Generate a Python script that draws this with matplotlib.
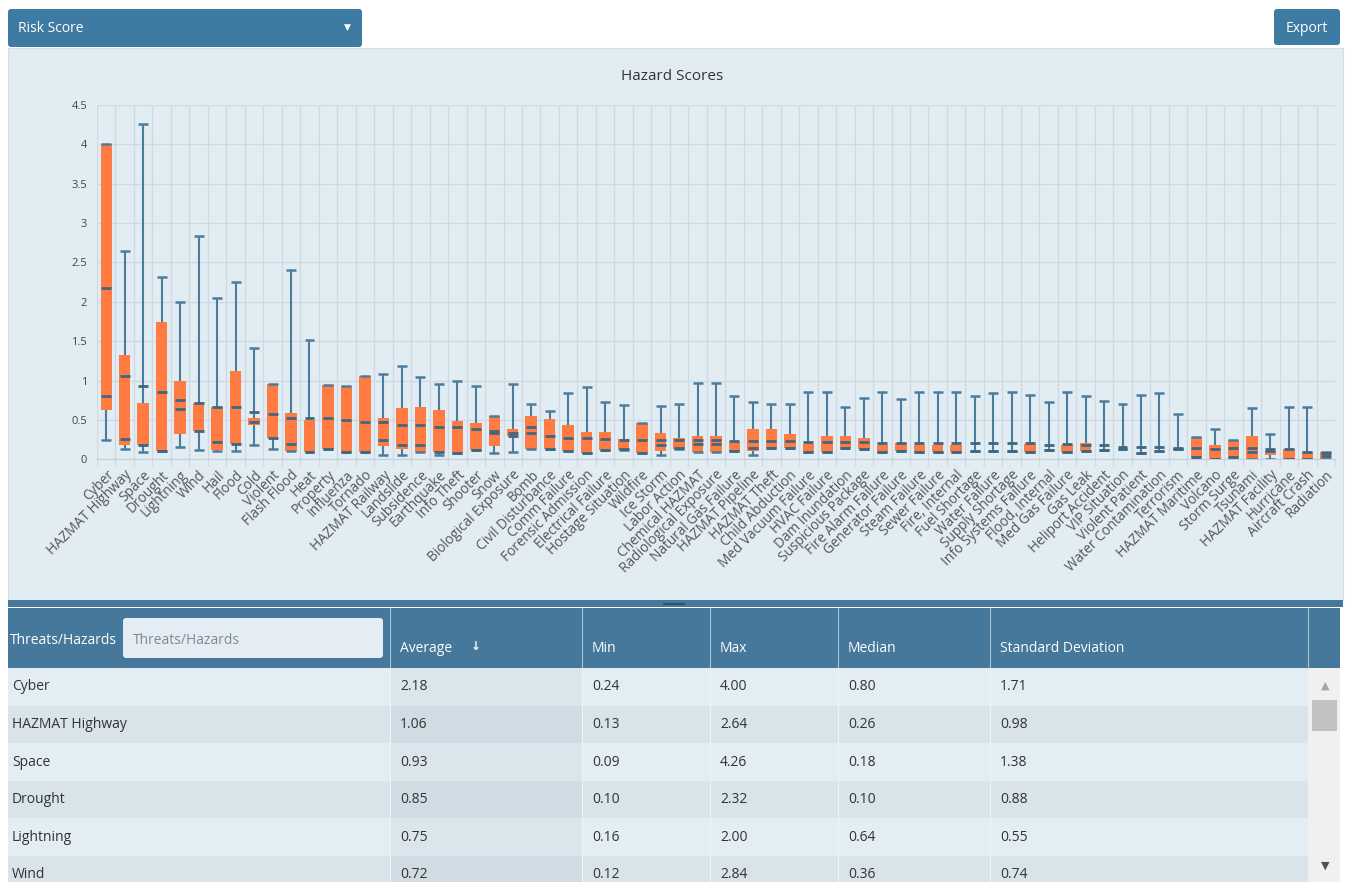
import numpy as np
import matplotlib
matplotlib.use('Agg')
import matplotlib.pyplot as plt
from matplotlib.patches import Rectangle, FancyBboxPatch
from matplotlib.ticker import FixedLocator, FuncFormatter

plt.rcParams['font.family'] = ['Open Sans', 'DejaVu Sans']

hazards = ['Cyber', 'HAZMAT Highway', 'Space', 'Drought', 'Lightning', 'Wind', 'Hail', 'Flood',
           'Cold', 'Violent', 'Flash Flood', 'Heat', 'Property', 'Influenza', 'Tornado',
           'HAZMAT Railway', 'Landslide', 'Subsidence', 'Earthquake', 'Info Theft', 'Shooter',
           'Snow', 'Biological Exposure', 'Bomb', 'Civil Disturbance', 'Comm Failure',
           'Forensic Admission', 'Electrical Failure', 'Hostage Situation', 'Wildfire',
           'Ice Storm', 'Labor Action', 'Chemical HAZMAT', 'Radiological Exposure',
           'Natural Gas Failure', 'HAZMAT Pipeline', 'HAZMAT Theft', 'Child Abduction',
           'Med Vacuum Failure', 'HVAC Failure', 'Dam Inundation', 'Suspicious Package',
           'Fire Alarm Failure', 'Generator Failure', 'Steam Failure', 'Sewer Failure',
           'Fire, Internal', 'Fuel Shortage', 'Water Failure', 'Supply Shortage',
           'Info Systems Failure', 'Flood, Internal', 'Med Gas Failure', 'Gas Leak',
           'Heliport Accident', 'VIP Situation', 'Violent Patient', 'Water Contamination',
           'Terrorism', 'HAZMAT Maritime', 'Volcano', 'Storm Surge', 'Tsunami',
           'HAZMAT Facility', 'Hurricane', 'Aircraft Crash', 'Radiation']

mins = [0.24, 0.13, 0.09, 0.10, 0.16, 0.12, 0.11, 0.10, 0.18, 0.13, 0.10, 0.09, 0.13, 0.09, 0.09,
        0.06, 0.06, 0.09, 0.05, 0.08, 0.12, 0.085, 0.09, 0.13, 0.13, 0.11, 0.08, 0.12, 0.12, 0.08,
        0.05, 0.13, 0.09, 0.09, 0.11, 0.05, 0.14, 0.14, 0.09, 0.09, 0.14, 0.13, 0.09, 0.10, 0.09,
        0.09, 0.09, 0.11, 0.11, 0.11, 0.09, 0.12, 0.09, 0.11, 0.12, 0.13, 0.08, 0.11, 0.13, 0.03,
        0.00, 0.03, 0.01, 0.01, 0.01, 0.01, 0.00]
q1s = [0.63, 0.18, 0.18, 0.10, 0.32, 0.36, 0.12, 0.19, 0.44, 0.27, 0.10, 0.09, 0.13, 0.09, 0.09,
       0.17, 0.13, 0.09, 0.09, 0.08, 0.12, 0.17, 0.29, 0.13, 0.13, 0.11, 0.08, 0.12, 0.12, 0.08,
       0.10, 0.13, 0.09, 0.09, 0.11, 0.11, 0.14, 0.14, 0.09, 0.09, 0.14, 0.13, 0.09, 0.10, 0.09,
       0.09, 0.09, 0.11, 0.11, 0.11, 0.09, 0.12, 0.09, 0.11, 0.12, 0.13, 0.08, 0.11, 0.13, 0.03,
       0.00, 0.03, 0.01, 0.06, 0.01, 0.01, 0.00]
medians = [0.80, 0.26, 0.18, 0.10, 0.64, 0.36, 0.22, 0.19, 0.47, 0.27, 0.19, 0.09, 0.13, 0.09, 0.09,
           0.24, 0.18, 0.18, 0.09, 0.08, 0.12, 0.34, 0.30, 0.41, 0.13, 0.11, 0.08, 0.12, 0.13, 0.08,
           0.18, 0.14, 0.19, 0.19, 0.11, 0.14, 0.14, 0.14, 0.09, 0.09, 0.14, 0.13, 0.09, 0.10, 0.09,
           0.09, 0.09, 0.11, 0.11, 0.11, 0.09, 0.12, 0.09, 0.11, 0.12, 0.13, 0.08, 0.11, 0.13, 0.03,
           0.00, 0.03, 0.09, 0.10, 0.01, 0.01, 0.04]
means = [2.18, 1.06, 0.93, 0.85, 0.75, 0.72, 0.67, 0.66, 0.60, 0.58, 0.53, 0.52, 0.52, 0.50, 0.47,
         0.47, 0.44, 0.43, 0.41, 0.41, 0.39, 0.36, 0.34, 0.33, 0.29, 0.27, 0.27, 0.26, 0.25, 0.25,
         0.25, 0.24, 0.24, 0.24, 0.23, 0.23, 0.23, 0.23, 0.22, 0.22, 0.22, 0.22, 0.21, 0.21, 0.21,
         0.21, 0.21, 0.21, 0.21, 0.21, 0.21, 0.18, 0.19, 0.18, 0.18, 0.16, 0.15, 0.15, 0.14, 0.145,
         0.13, 0.14, 0.14, 0.13, 0.13, 0.09, 0.08]
q3s = [4.00, 1.33, 0.71, 1.74, 1.00, 0.71, 0.67, 1.12, 0.53, 0.96, 0.59, 0.50, 0.95, 0.93, 1.06,
       0.53, 0.65, 0.66, 0.63, 0.49, 0.46, 0.55, 0.38, 0.55, 0.51, 0.44, 0.35, 0.35, 0.26, 0.46,
       0.33, 0.27, 0.30, 0.30, 0.22, 0.39, 0.39, 0.32, 0.19, 0.30, 0.30, 0.27, 0.18, 0.21, 0.18,
       0.18, 0.18, 0.11, 0.11, 0.11, 0.19, 0.12, 0.18, 0.21, 0.12, 0.13, 0.08, 0.11, 0.13, 0.28,
       0.18, 0.24, 0.29, 0.10, 0.13, 0.09, 0.09]
maxs = [4.00, 2.64, 4.26, 2.32, 2.00, 2.84, 2.05, 2.25, 1.41, 0.96, 2.40, 1.51, 0.95, 0.93, 1.06,
        1.08, 1.18, 1.05, 0.96, 0.99, 0.93, 0.55, 0.96, 0.70, 0.61, 0.84, 0.92, 0.73, 0.69, 0.46,
        0.68, 0.70, 0.97, 0.97, 0.81, 0.73, 0.70, 0.70, 0.86, 0.86, 0.66, 0.78, 0.86, 0.76, 0.86,
        0.86, 0.86, 0.81, 0.84, 0.85, 0.82, 0.73, 0.86, 0.81, 0.74, 0.70, 0.82, 0.84, 0.58, 0.28,
        0.39, 0.24, 0.65, 0.32, 0.67, 0.66, 0.09]

# table (first rows only are visible)
table_columns = ['Average', 'Min', 'Max', 'Median', 'Standard Deviation']
std_devs = [1.71, 0.98, 1.38, 0.88, 0.55, 0.74]

W, H = 1345, 882
BLUE = '#3d7ba2'
HEADER = '#45789a'
PANEL = '#e2ecf3'
ORANGE = '#ff7b42'
WHISKER = '#4c7c9c'
MARK = '#3e6782'
GRID = '#cfd9e1'
FS = 10

fig = plt.figure(figsize=(W / 100, H / 100), dpi=100)
fig.patch.set_facecolor('white')

bg = fig.add_axes([0, 0, 1, 1])
bg.set_xlim(0, W)
bg.set_ylim(H, 0)
bg.axis('off')


def rect(x, y, w, h, color, **kw):
    bg.add_patch(Rectangle((x, y), w, h, facecolor=color, edgecolor=kw.pop('ec', 'none'), **kw))


def button(x, y, w, h, color):
    bg.add_patch(FancyBboxPatch((x, y), w, h, boxstyle='round,pad=0,rounding_size=3',
                                facecolor=color, edgecolor='none'))


# top controls
button(8, 9, 354, 38, BLUE)
bg.text(18, 28.5, 'Risk Score', color='white', fontsize=FS, va='center', ha='left')
bg.text(347, 27, '\u25bc', color='white', fontsize=6.5, va='center', ha='center')
button(1274, 9, 66, 36, BLUE)
bg.text(1307, 28, 'Export', color='white', fontsize=FS, va='center', ha='center')

# chart panel
rect(8, 48, 1335, 552, PANEL, ec='#d5dee5', lw=0.8)
bg.text(672, 76, 'Hazard Scores', color='#333333', fontsize=11, ha='center', va='center')

# splitter
rect(8, 600, 1335, 7, HEADER)
bg.plot([664, 684], [604, 604], color='#2c4f68', lw=1.3)

# table header
col_x = [8, 390, 582, 710, 838, 990, 1308, 1340]
rect(8, 608, 1332, 60, HEADER)
for cx in col_x[1:-1]:
    bg.plot([cx, cx], [608, 668], color='#a9c2d2', lw=0.8)
button(123, 618, 260, 40, '#e4edf3')
bg.text(10, 640, 'Threats/Hazards', color='white', fontsize=FS, va='center')
bg.text(133, 640, 'Threats/Hazards', color='#7d8b97', fontsize=FS, va='center')
for cx, name in zip(col_x[1:6], table_columns):
    bg.text(cx + 10, 649, name, color='white', fontsize=FS, va='center')
bg.text(471, 647, '\u2193', color='white', fontsize=8.5, va='center', fontweight='bold')

# table body
row_h = 37.6
for i in range(6):
    y = 668 + i * row_h
    light = i % 2 == 0
    rect(8, y, 1300, row_h, '#e3edf4' if light else '#d8e3ea')
    rect(390, y, 192, row_h, '#dbe5ec' if light else '#d0dbe3')
    vals = [means[i], mins[i], maxs[i], medians[i], std_devs[i]]
    yc = y + row_h / 2
    bg.text(12, yc, hazards[i], color='#333333', fontsize=FS, va='center')
    for cx, v in zip(col_x[1:6], vals):
        bg.text(cx + 10, yc, f'{v:.2f}', color='#333333', fontsize=FS, va='center')
for cx in col_x[1:6]:
    bg.plot([cx, cx], [668, H], color='#eef3f7', lw=0.8)

# scrollbar
rect(1308, 668, 32, 214, '#f0f0f0')
rect(1312, 700, 25, 31, '#c2c2c2')
bg.text(1325, 686, '\u25b2', color='#a6a6a6', fontsize=8, ha='center', va='center')
bg.text(1325, 866, '\u25bc', color='#505050', fontsize=8, ha='center', va='center')

# box chart
y0, y45 = 459.3, 105
ax = fig.add_axes([97 / W, (H - y0) / H, (1335 - 97) / W, (y0 - y45) / H])
ax.set_facecolor('none')
n = len(hazards)
xs = np.arange(n)
ax.set_xlim(-0.5, n - 0.5)
ax.set_ylim(0, 4.5)

ax.vlines(xs, mins, maxs, color=WHISKER, lw=1.5, zorder=2)
ax.bar(xs, np.array(q3s) - np.array(q1s), bottom=q1s, width=0.62, color=ORANGE, zorder=3)
for vals in (mins, maxs):
    ax.hlines(vals, xs - 0.27, xs + 0.27, color=WHISKER, lw=1.8, zorder=4)
for vals in (medians, means):
    ax.hlines(vals, xs - 0.27, xs + 0.27, color=MARK, lw=2, zorder=5)

ax.set_yticks(np.arange(0, 4.51, 0.5))
ax.yaxis.set_major_formatter(FuncFormatter(lambda v, p: f'{v:g}'))
ax.xaxis.set_minor_locator(FixedLocator(np.arange(-0.5, n, 1)))
ax.grid(axis='y', which='major', color=GRID, lw=0.9)
ax.grid(axis='x', which='minor', color=GRID, lw=0.9)
ax.set_axisbelow(True)
ax.set_xticks(xs)
ax.set_xticklabels(hazards, rotation=45, ha='right', va='top', rotation_mode='anchor',
                   fontsize=9.8, color='#555555')
ax.tick_params(axis='x', which='major', length=0, pad=6)
ax.tick_params(axis='x', which='minor', length=5, color=GRID, width=0.9)
ax.tick_params(axis='y', length=0, pad=7, labelsize=8, labelcolor='#444444')
for s in ('top', 'right', 'left'):
    ax.spines[s].set_visible(False)
ax.spines['bottom'].set_color('#c3ced7')

fig.savefig('out.png', dpi=100)
